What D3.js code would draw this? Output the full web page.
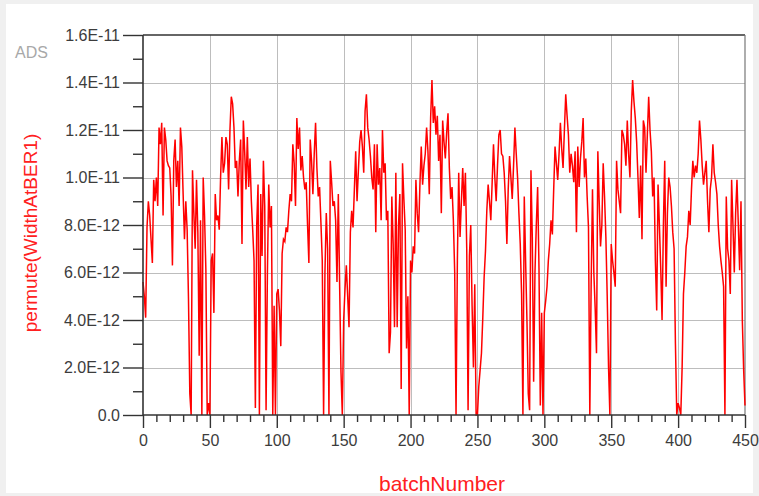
<!DOCTYPE html>
<html><head><meta charset="utf-8">
<script src="https://cdn.jsdelivr.net/npm/d3@7"></script>
<style>
html,body{margin:0;padding:0;background:#f0f0f0;}
svg{display:block;}
</style></head>
<body>
<svg id="chart" width="759" height="496"></svg>
<script>
// values of permute(WidthAtBER1), in units of 1E-12 (ps), for batchNumber 0..450
const UNIT = 1e-12;
const widthPs = [
5.6,5.0,4.1,7.9,9.0,8.4,7.4,6.4,9.9,9.0,
10.0,8.8,12.1,11.4,12.3,8.4,12.1,11.6,10.7,10.5,
10.4,9.2,6.3,10.7,11.6,9.6,10.7,8.8,12.1,11.3,
9.3,7.4,9.0,7.8,4.9,0.9,0,10.3,8.5,7.0,
9.9,7.7,2.5,8.2,0,10.0,8.4,6.1,0,0.5,
0,6.5,6.8,4.3,9.3,8.2,8.4,7.8,10.0,11.7,
10.2,10.6,11.7,11.4,9.5,12.0,13.4,13.1,12.1,10.4,
10.7,9.2,10.7,11.6,7.2,12.4,11.1,9.5,11.7,9.6,
10.8,9.0,7.8,6.5,0.3,8.0,9.7,0,9.3,6.7,
10.7,8.8,0.2,6.0,9.7,7.9,8.8,0,4.6,0,
5.1,5.3,4.4,2.9,6.8,7.4,7.3,7.9,7.7,8.6,
9.3,9.0,11.4,10.6,8.8,12.5,11.2,12.1,10.3,10.9,
10.0,9.5,9.8,8.0,6.4,11.6,10.7,9.3,11.0,12.3,
10.4,9.2,9.6,8.1,6.5,0,6.0,8.5,7.0,0,
10.7,9.8,8.8,9.0,8.2,5.6,9.3,5.4,1.8,0,
4.0,5.3,6.3,5.0,3.7,7.7,8.6,7.9,9.5,11.1,
9.0,10.3,11.5,12.0,11.3,10.2,12.8,13.5,12.1,11.6,
10.9,10.0,9.5,11.4,7.7,11.4,9.7,10.4,8.2,12.0,
10.2,10.6,8.2,8.6,2.6,3.5,9.2,7.2,3.7,10.2,
3.7,8.0,9.3,1.1,10.6,9.1,7.8,2.8,5.0,0,
6.5,6.0,7.1,6.8,9.9,8.5,7.7,9.7,11.3,9.7,
10.5,11.0,12.1,11.1,9.3,12.5,14.1,12.3,13.0,11.8,
12.6,10.7,11.8,8.5,12.4,11.5,10.8,11.9,12.7,10.4,
9.1,9.6,8.2,6.0,0,6.5,10.2,7.5,9.0,10.4,
8.8,10.2,7.0,0.2,6.7,8.0,4.6,2.0,5.5,0,
0,1.2,1.9,2.6,4.1,5.8,6.9,8.6,9.7,9.0,
8.2,9.8,11.4,10.0,9.0,10.5,11.8,12.0,11.0,10.9,
10.2,9.0,7.2,9.5,10.9,10.0,9.1,10.5,12.1,11.0,
10.0,8.5,7.2,5.1,0,9.2,6.5,4.0,0.9,0.2,
10.3,7.5,1.4,6.0,8.0,9.6,6.2,0.4,4.3,0,
4.3,4.8,5.4,6.5,7.2,8.2,7.6,9.5,11.3,10.6,
9.9,11.0,12.3,11.2,10.4,12.0,13.5,12.6,11.8,10.2,
11.0,10.5,9.8,11.1,7.7,11.3,9.6,10.8,11.5,12.5,
10.0,10.8,9.2,7.9,0,5.5,9.5,6.0,4.5,2.6,
11.1,9.0,7.1,8.0,10.6,9.2,7.5,5.0,2.0,0,
7.2,6.5,6.0,5.4,10.7,9.5,9.0,8.5,12.0,11.8,
11.4,10.5,12.4,11.0,10.0,12.8,14.1,13.2,12.5,11.5,
10.0,8.3,10.5,7.4,12.4,12.1,10.2,11.8,13.4,12.0,
11.1,9.2,10.0,6.5,4.4,9.7,8.0,6.2,4.0,8.0,
10.7,5.4,8.5,10.0,9.6,8.8,7.7,7.0,3.0,0,
0.5,0.3,0,2.0,5.1,6.0,7.1,7.5,8.6,8.0,
9.5,10.7,10.0,10.5,10.2,11.0,12.4,11.6,10.5,9.7,
10.2,10.7,9.0,7.7,9.5,10.0,11.4,10.2,9.8,9.3,
8.0,7.1,6.5,6.0,5.4,0,9.2,7.0,6.5,5.1,
9.9,8.0,6.0,8.5,9.9,8.0,6.1,9.0,4.0,1.9,
0.4
];
const batchNumber = widthPs.map((_, i) => i);

const xMajorTicks = [0,50,100,150,200,250,300,350,400,450];
const xMinorTicks = d3.range(0,451,10).filter(v => v % 50 !== 0);
const yMajorTicks = [0,2,4,6,8,10,12,14,16];
const yTickLabels = ["0.0","2.0E-12","4.0E-12","6.0E-12","8.0E-12","1.0E-11","1.2E-11","1.4E-11","1.6E-11"];
const yMinorTicks = [1,3,5,7,9,11,13,15];

const svg = d3.select("#chart");
const plot = {left:143, right:745, top:35, bottom:415};

svg.append("rect").attr("x",6).attr("y",4).attr("width",747).attr("height",489).attr("fill","#ffffff");

const x = d3.scaleLinear().domain([0,450]).range([plot.left, plot.right]);
const y = d3.scaleLinear().domain([0,16*UNIT]).range([plot.bottom, plot.top]);

// grid
const grid = svg.append("g").attr("stroke","#bdbdbd").attr("stroke-width",1);
grid.selectAll("line.v").data(xMajorTicks.filter(v => v>0 && v<450)).join("line")
  .attr("x1",d=>Math.round(x(d))+0.5).attr("x2",d=>Math.round(x(d))+0.5)
  .attr("y1",plot.top).attr("y2",plot.bottom);
grid.selectAll("line.h").data(yMajorTicks.filter(v => v>0 && v<16)).join("line")
  .attr("x1",plot.left).attr("x2",plot.right)
  .attr("y1",d=>Math.round(y(d*UNIT))+0.5).attr("y2",d=>Math.round(y(d*UNIT))+0.5);

// frame (top & right)
svg.append("line").attr("x1",plot.left).attr("x2",plot.right).attr("y1",plot.top).attr("y2",plot.top)
  .attr("stroke","#333").attr("stroke-width",1.6);
svg.append("line").attr("x1",plot.right).attr("x2",plot.right).attr("y1",plot.top).attr("y2",plot.bottom)
  .attr("stroke","#777").attr("stroke-width",1.2);

// data line
const line = d3.line().x((d,i)=>x(batchNumber[i])).y(d=>y(d*UNIT));
svg.append("path").datum(widthPs).attr("d",line)
  .attr("fill","none").attr("stroke","#ff0000").attr("stroke-width",1.5).attr("stroke-linejoin","miter");

// axes
const fontFam = "'Liberation Sans', Arial, sans-serif";
const yAxis = d3.axisLeft(y).tickValues(yMajorTicks.map(v=>v*UNIT)).tickSize(20).tickPadding(3)
  .tickFormat((d,i)=>yTickLabels[i]);
const gy = svg.append("g").attr("transform",`translate(${plot.left},0)`).call(yAxis);
const yMinor = d3.axisLeft(y).tickValues(yMinorTicks.map(v=>v*UNIT)).tickSize(10).tickFormat("");
const gym = svg.append("g").attr("transform",`translate(${plot.left},0)`).call(yMinor);
gym.select(".domain").remove();

const xAxis = d3.axisBottom(x).tickValues(xMajorTicks).tickSize(13).tickPadding(7);
const gx = svg.append("g").attr("transform",`translate(0,${plot.bottom})`).call(xAxis);
const xMinor = d3.axisBottom(x).tickValues(xMinorTicks).tickSize(7).tickFormat("");
const gxm = svg.append("g").attr("transform",`translate(0,${plot.bottom})`).call(xMinor);
gxm.select(".domain").remove();

[gy,gym,gx,gxm].forEach(g=>{
  g.selectAll(".domain").attr("stroke","#333").attr("stroke-width",1.6);
  g.selectAll(".tick line").attr("stroke","#333").attr("stroke-width",1.4);
  g.selectAll("text").attr("font-family",fontFam).attr("font-size",16).attr("fill","#3c3c3c");
});
gx.select(".domain").attr("d",`M${plot.left},0H${plot.right}`);
gy.select(".domain").attr("d",`M0,${plot.top}V${plot.bottom}`);

// titles
svg.append("text").attr("x",15).attr("y",58).text("ADS")
  .attr("font-family",fontFam).attr("font-size",16).attr("fill","#a8a8a8");
svg.append("text").attr("transform","translate(37,233) rotate(-90)").attr("text-anchor","middle")
  .text("permute(WidthAtBER1)").attr("font-family",fontFam).attr("font-size",19).attr("fill","#ff2020");
svg.append("text").attr("x",442).attr("y",491).attr("text-anchor","middle")
  .text("batchNumber").attr("font-family",fontFam).attr("font-size",21).attr("fill","#ff2020");
</script>
</body></html>
